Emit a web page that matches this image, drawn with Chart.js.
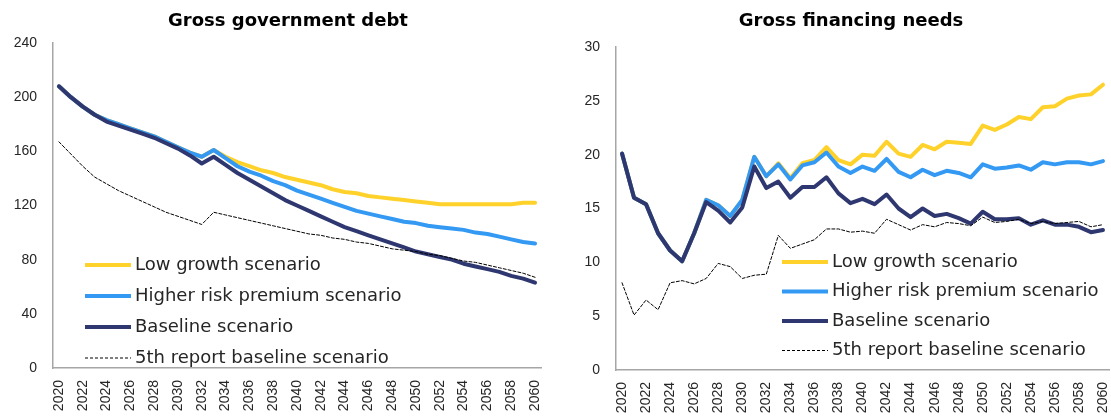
<!DOCTYPE html>
<html>
<head>
<meta charset="utf-8">
<script src="https://cdn.jsdelivr.net/npm/chart.js@4.4.1/dist/chart.umd.min.js"></script>
<style>
  html, body { margin: 0; padding: 0; background: #fff; }
  .panel { position: absolute; top: 0; height: 419px; }
  #leftPanel { left: 0; width: 556px; }
  #rightPanel { left: 556px; width: 555px; }
</style>
</head>
<body>
<div class="panel" id="leftPanel"><canvas id="debtChart"></canvas></div>
<div class="panel" id="rightPanel"><canvas id="gfnChart"></canvas></div>
<script>
const years = ['2020','2021','2022','2023','2024','2025','2026','2027','2028','2029',
  '2030','2031','2032','2033','2034','2035','2036','2037','2038','2039',
  '2040','2041','2042','2043','2044','2045','2046','2047','2048','2049',
  '2050','2051','2052','2053','2054','2055','2056','2057','2058','2059','2060'];

const seriesNames = ['Low growth scenario', 'Higher risk premium scenario',
  'Baseline scenario', '5th report baseline scenario'];

// Gross government debt
const debtLowGrowth = [208, 200, 193, 187, 183, 180, 177, 174, 171, 167,
  163, 159, 156, 161, 156, 152, 149, 146, 144, 141,
  139, 137, 135, 132, 130, 129, 127, 126, 125, 124,
  123, 122, 121, 121, 121, 121, 121, 121, 121, 122, 122];
const debtHigherRisk = [208, 200, 193, 187, 183, 180, 177, 174, 171, 167,
  163, 159, 156, 161, 155, 149, 145, 142, 138, 135,
  131, 128, 125, 122, 119, 116, 114, 112, 110, 108,
  107, 105, 104, 103, 102, 100, 99, 97, 95, 93, 92];
const debtBaseline = [208, 200, 193, 187, 182, 179, 176, 173, 170, 166,
  162, 157, 151, 156, 150, 144, 139, 134, 129, 124,
  120, 116, 112, 108, 104, 101, 98, 95, 92, 89,
  86, 84, 82, 80, 77, 75, 73, 71, 68, 66, 63];
const debt5thReport = [167, 158, 149, 141, 136, 131, 127, 123, 119, 115,
  112, 109, 106, 115, 113, 111, 109, 107, 105, 103,
  101, 99, 98, 96, 95, 93, 92, 90, 88, 87,
  86, 84, 83, 81, 79, 78, 76, 74, 72, 70, 67];
const debtTicks = [0, 40, 80, 120, 160, 200, 240];

// Gross financing needs
const gfnLowGrowth = [20.1, 16.0, 15.4, 12.7, 11.1, 10.1, 12.7, 15.8, 15.3, 14.3,
  15.8, 19.8, 18.0, 19.2, 17.8, 19.2, 19.5, 20.7, 19.5, 19.1,
  20.0, 19.9, 21.2, 20.1, 19.8, 20.9, 20.5, 21.2, 21.1, 21.0,
  22.7, 22.3, 22.8, 23.5, 23.3, 24.4, 24.5, 25.2, 25.5, 25.6, 26.5];
const gfnHigherRisk = [20.1, 16.0, 15.4, 12.7, 11.1, 10.1, 12.7, 15.8, 15.3, 14.3,
  15.8, 19.8, 18.0, 19.1, 17.7, 19.0, 19.3, 20.2, 18.9, 18.3,
  18.9, 18.5, 19.6, 18.4, 17.9, 18.6, 18.1, 18.5, 18.3, 17.9,
  19.1, 18.7, 18.8, 19.0, 18.6, 19.3, 19.1, 19.3, 19.3, 19.1, 19.4];
const gfnBaseline = [20.1, 16.0, 15.4, 12.7, 11.1, 10.1, 12.7, 15.6, 14.8, 13.7,
  15.1, 18.9, 16.9, 17.5, 16.0, 17.0, 17.0, 17.9, 16.4, 15.5,
  15.9, 15.4, 16.3, 15.0, 14.2, 15.0, 14.3, 14.5, 14.1, 13.6,
  14.7, 14.0, 14.0, 14.1, 13.5, 13.9, 13.5, 13.5, 13.3, 12.8, 13.0];
const gfn5thReport = [8.1, 5.1, 6.5, 5.6, 8.1, 8.3, 8.0, 8.5, 9.9, 9.6,
  8.5, 8.8, 8.9, 12.5, 11.3, 11.7, 12.1, 13.1, 13.1, 12.8,
  12.9, 12.7, 14.0, 13.5, 13.0, 13.5, 13.3, 13.7, 13.6, 13.4,
  14.2, 13.7, 13.8, 14.0, 13.6, 13.8, 13.6, 13.7, 13.8, 13.3, 13.5];
const gfnTicks = [0, 5, 10, 15, 20, 25, 30];

const YELLOW = '#FFD22B';
const BLUE = '#3399F3';
const NAVY = '#2E3770';
const AXIS = '#A6A6A6';
const TEXT = '#262626';

// titles and in-plot legends are drawn by hand so they can sit where the original has them
const panelDecor = {
    id: 'panelDecor',
    afterDraw(chart, args, opts) {
        const ctx = chart.ctx;
        ctx.save();
        ctx.fillStyle = '#000';
        ctx.font = 'bold 18px "DejaVu Sans"';
        ctx.textAlign = 'center';
        ctx.textBaseline = 'middle';
        ctx.fillText(opts.title, opts.titleX, opts.titleY);

        ctx.textAlign = 'left';
        ctx.font = '18px "DejaVu Sans"';
        chart.data.datasets.forEach((ds, i) => {
            const y = opts.legendY + i * opts.rowGap;
            ctx.strokeStyle = ds.borderColor;
            ctx.lineWidth = ds.borderWidth;
            ctx.setLineDash(ds.borderDash || []);
            ctx.beginPath();
            ctx.moveTo(opts.legendX, y);
            ctx.lineTo(opts.legendX + 46, y);
            ctx.stroke();
            ctx.setLineDash([]);
            ctx.fillStyle = TEXT;
            ctx.fillText(ds.label, opts.legendX + 50, y);
        });
        ctx.restore();
    }
};

function makeDatasets(low, risk, base, fifth) {
    return [
        { label: seriesNames[0], data: low, borderColor: YELLOW, borderWidth: 4, order: 4 },
        { label: seriesNames[1], data: risk, borderColor: BLUE, borderWidth: 4, order: 3 },
        { label: seriesNames[2], data: base, borderColor: NAVY, borderWidth: 4, order: 2 },
        { label: seriesNames[3], data: fifth, borderColor: '#000', borderWidth: 1, borderDash: [3, 2], order: 1 }
    ];
}

function makeOptions(yTicks, axisWidth, xHeight, padding, decor) {
    return {
        responsive: true,
        maintainAspectRatio: false,
        animation: false,
        layout: { padding: padding },
        elements: { point: { radius: 0 }, line: { tension: 0, borderCapStyle: 'round', borderJoinStyle: 'round' } },
        plugins: {
            legend: { display: false },
            tooltip: { enabled: false },
            panelDecor: decor
        },
        scales: {
            x: {
                offset: true,
                grid: { display: false },
                border: { color: AXIS, width: 1.5 },
                ticks: {
                    autoSkip: false,
                    minRotation: 90,
                    maxRotation: 90,
                    padding: 4,
                    color: TEXT,
                    font: { family: 'Liberation Sans', size: 14 },
                    callback: (v, i) => (i % 2 === 0 ? years[i] : null)
                },
                afterFit: s => {
                    s.height = xHeight;
                    s.paddingLeft = 0;
                    s.paddingRight = 0;
                }
            },
            y: {
                min: yTicks[0],
                max: yTicks[yTicks.length - 1],
                grid: { display: false, drawTicks: false },
                border: { color: AXIS, width: 1.5 },
                afterBuildTicks: s => { s.ticks = yTicks.map(v => ({ value: v })); },
                ticks: {
                    padding: 16,
                    color: TEXT,
                    font: { family: 'Liberation Sans', size: 14 }
                },
                afterFit: s => { s.width = axisWidth; }
            }
        }
    };
}

const debtChart = new Chart(document.getElementById('debtChart'), {
    type: 'line',
    data: { labels: years, datasets: makeDatasets(debtLowGrowth, debtHigherRisk, debtBaseline, debt5thReport) },
    options: makeOptions(debtTicks, 53, 51, { top: 43, right: 15, left: 0, bottom: 0 },
        { title: 'Gross government debt', titleX: 288, titleY: 21, legendX: 85, legendY: 265, rowGap: 31 }),
    plugins: [panelDecor]
});

const gfnChart = new Chart(document.getElementById('gfnChart'), {
    type: 'line',
    data: { labels: years, datasets: makeDatasets(gfnLowGrowth, gfnHigherRisk, gfnBaseline, gfn5thReport) },
    options: makeOptions(gfnTicks, 60, 49, { top: 47, right: 2, left: 0, bottom: 0 },
        { title: 'Gross financing needs', titleX: 295, titleY: 21, legendX: 226, legendY: 262, rowGap: 29.5 }),
    plugins: [panelDecor]
});
</script>
</body>
</html>
